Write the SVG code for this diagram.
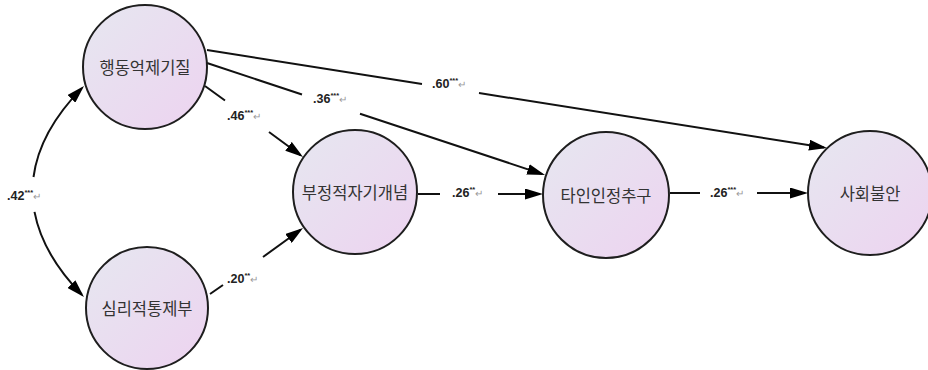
<svg xmlns="http://www.w3.org/2000/svg" width="928" height="370" viewBox="0 0 928 370">
<style>
.node{stroke:#1e1e1e;stroke-width:2;fill:url(#g)}
.nt{font-family:"Noto Sans CJK KR","Noto Sans",sans-serif;font-size:16.5px;fill:#333;text-anchor:middle;dominant-baseline:central}
.c{fill:none;stroke:#111;stroke-width:2}
.lb{font-family:"Liberation Sans",Arial,sans-serif;font-size:12.5px;font-weight:bold;fill:#222}
.sup{font-size:7.5px}
.ret{font-weight:normal;font-size:10px;fill:#999}
</style>
<defs>
<linearGradient id="g" x1="0" y1="0" x2="1" y2="1">
<stop offset="0" stop-color="#e6e7f0"/>
<stop offset="1" stop-color="#edd3f0"/>
</linearGradient>
<marker id="a" viewBox="0 0 18 11" refX="15" refY="5.5" markerWidth="18" markerHeight="11" markerUnits="userSpaceOnUse" orient="auto-start-reverse">
<path d="M0 0L18 5.5L0 11z" fill="#000"/>
</marker>
</defs>
<g id="connectors">
<path class="c" d="M207 50L422 84M479 93L824 147.5" marker-end="url(#a)"/>
<path class="c" d="M207 63L302 94.5M360 113.7L542.2 174.1" marker-end="url(#a)"/>
<path class="c" d="M205 86L225 100.5M269 132L300.6 155.2" marker-end="url(#a)"/>
<path class="c" d="M210 294L223 285M263 257L300.6 229.7" marker-end="url(#a)"/>
<path class="c" d="M418 194L440 194M498 194L540 194" marker-end="url(#a)"/>
<path class="c" d="M670 193L700 193M757 193L805 193" marker-end="url(#a)"/>
<path class="c" d="M81.9 294.8Q42.6 254.4 34.5 211.9M33.5 177Q39.5 131.4 81.9 88.1" marker-start="url(#a)" marker-end="url(#a)"/>
</g>
<g id="n1"><circle class="node" cx="145" cy="67" r="62"/><text class="nt" x="145" y="67">행동억제기질</text></g>
<g id="n2"><circle class="node" cx="147" cy="308" r="61"/><text class="nt" x="147" y="308">심리적통제부</text></g>
<g id="n3"><circle class="node" cx="355" cy="192" r="62"/><text class="nt" x="355" y="192">부정적자기개념</text></g>
<g id="n4"><circle class="node" cx="606" cy="195" r="63"/><text class="nt" x="606" y="195">타인인정추구</text></g>
<g id="n5"><circle class="node" cx="870" cy="193" r="62"/><text class="nt" x="870" y="193">사회불안</text></g>
<g id="labels">
<text class="lb" x="432" y="88">.60<tspan class="sup" dy="-5">***</tspan><tspan class="ret" dy="5">↵</tspan></text>
<text class="lb" x="313" y="103">.36<tspan class="sup" dy="-5">***</tspan><tspan class="ret" dy="5">↵</tspan></text>
<text class="lb" x="227" y="120">.46<tspan class="sup" dy="-5">***</tspan><tspan class="ret" dy="5">↵</tspan></text>
<text class="lb" x="7" y="200">.42<tspan class="sup" dy="-5">***</tspan><tspan class="ret" dy="5">↵</tspan></text>
<text class="lb" x="227" y="283">.20<tspan class="sup" dy="-5">**</tspan><tspan class="ret" dy="5">↵</tspan></text>
<text class="lb" x="452" y="197">.26<tspan class="sup" dy="-5">**</tspan><tspan class="ret" dy="5">↵</tspan></text>
<text class="lb" x="710" y="197">.26<tspan class="sup" dy="-5">***</tspan><tspan class="ret" dy="5">↵</tspan></text>
</g>
</svg>
